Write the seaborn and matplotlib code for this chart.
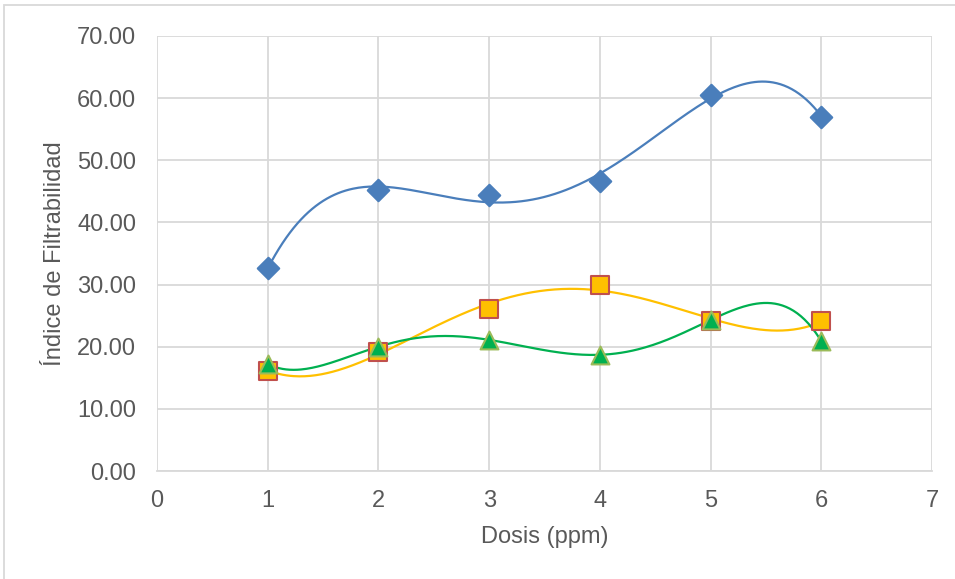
import numpy as np
import pandas as pd
import matplotlib
matplotlib.use("Agg")
import matplotlib.pyplot as plt
from matplotlib.patches import Rectangle
import seaborn as sns

# Dose levels and filterability index for each series
dosis = [1, 2, 3, 4, 5, 6]
serie_azul = [32.7, 45.2, 44.4, 46.7, 60.5, 57.0]
serie_amarilla = [16.1, 19.2, 26.1, 29.9, 24.1, 24.1]
serie_verde = [17.2, 20.0, 21.1, 18.7, 24.3, 20.9]

x_ticks = [0, 1, 2, 3, 4, 5, 6, 7]
y_ticks = [0, 10, 20, 30, 40, 50, 60, 70]


def trendline(xs, ys, deg, n=300):
    """Least-squares polynomial trendline over the data range."""
    coef = np.polyfit(xs, ys, deg)
    tx = np.linspace(min(xs), max(xs), n)
    return tx, np.polyval(coef, tx)


sns.set_style("whitegrid", {"grid.color": "#d9d9d9", "axes.edgecolor": "#d9d9d9"})
plt.rcParams["font.family"] = ["Liberation Sans", "DejaVu Sans"]

fig = plt.figure(figsize=(9.55, 5.79), dpi=100)
ax = fig.add_axes([157 / 955, 1 - 471 / 579, (932 - 157) / 955, (471 - 36) / 579])

# (values, line colour, marker, face, edge, size, trendline order)
series = [
    (serie_azul, "#4a7ebb", "D", "#4a7ebb", "#4a7ebb", 120, 4),
    (serie_amarilla, "#ffc000", "s", "#ffc000", "#c0504d", 175, 4),
    (serie_verde, "#00b050", "^", "#00b050", "#9bbb59", 165, 5),
]

for vals, lc, mk, fc, ec, sz, deg in series:
    tx, ty = trendline(dosis, vals, deg)
    curve = pd.DataFrame({"x": tx, "y": ty})
    sns.lineplot(data=curve, x="x", y="y", ax=ax, color=lc, linewidth=1.6,
                 sort=False, estimator=None, zorder=3)

for vals, lc, mk, fc, ec, sz, deg in series:
    pts = pd.DataFrame({"x": dosis, "y": vals})
    sns.scatterplot(data=pts, x="x", y="y", ax=ax, marker=mk, s=sz,
                    color=fc, edgecolor=ec, linewidth=1.5, zorder=4)

ax.set_xlim(0, 7)
ax.set_ylim(0, 70)
ax.set_xticks(x_ticks)
ax.set_yticks(y_ticks)
ax.set_yticklabels([f"{v:.2f}" for v in y_ticks])
ax.grid(True, color="#d9d9d9", linewidth=1.3)
for side in ["left", "right", "top"]:
    ax.spines[side].set_visible(False)
ax.spines["bottom"].set_color("#d9d9d9")
ax.spines["bottom"].set_linewidth(1.3)
ax.tick_params(axis="both", length=0, labelsize=17, labelcolor="#595959")
ax.tick_params(axis="x", pad=14)
ax.tick_params(axis="y", pad=15)

ax.set_xlabel("Dosis (ppm)", fontsize=17, color="#595959", labelpad=10)
ax.set_ylabel("Índice de Filtrabilidad", fontsize=17, color="#595959", labelpad=8)

# Light chart-area border
fig.patches.append(Rectangle((4 / 955, -0.1), 1.2, 1 - 5 / 579 + 0.1,
                             transform=fig.transFigure, fill=False,
                             edgecolor="#d9d9d9", linewidth=1.3, zorder=0))

fig.savefig("out.png", dpi=100, facecolor="white")
